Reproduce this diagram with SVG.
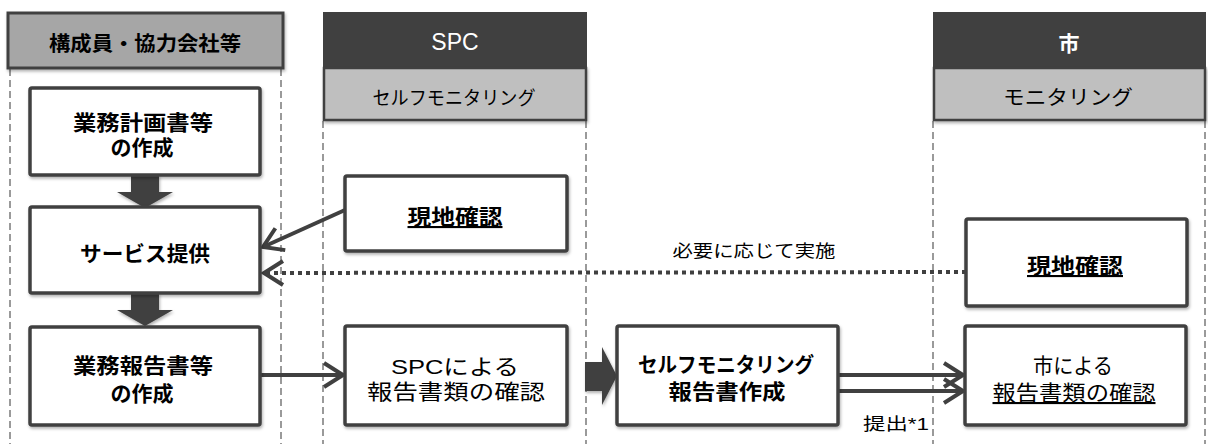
<svg xmlns="http://www.w3.org/2000/svg" width="1208" height="444" viewBox="0 0 1208 444">
<style>
.bg{fill:#ffffff}
.lane{stroke:#9a9a9a;stroke-width:2;stroke-dasharray:7 4;fill:none}
.box{fill:#ffffff;stroke:#404040;stroke-width:3.5}
.hdr1{fill:#a6a6a6;stroke:#404040;stroke-width:3}
.hdr2{fill:#404040}
.sub{fill:#bfbfbf;stroke:#404040;stroke-width:2.5}
.blk{fill:#404040}
.t{font-family:"Liberation Sans","Noto Sans CJK JP",sans-serif;fill:#000;text-anchor:middle}
.b{font-weight:bold}
.w{fill:#ffffff}
.u{text-decoration:underline}
.con{stroke:#404040;stroke-width:4;fill:none}
.dot{stroke:#404040;stroke-width:4;fill:none;stroke-dasharray:4 4}
</style>
<defs>
<filter id="sh" x="-10%" y="-10%" width="120%" height="130%">
<feDropShadow dx="1" dy="2" stdDeviation="1.5" flood-color="#000" flood-opacity="0.3"/>
</filter>
<marker id="open" viewBox="0 0 24 24" refX="20" refY="12" markerWidth="24" markerHeight="24" markerUnits="userSpaceOnUse" orient="auto" overflow="visible">
<path d="M1,0 L20,12 L1,24" fill="none" stroke="#404040" stroke-width="4"/>
</marker>
</defs>
<rect class="bg" x="0" y="0" width="1208" height="444"/>

<g id="lanes">
<line class="lane" x1="10" y1="69" x2="10" y2="444"/>
<line class="lane" x1="281" y1="69" x2="281" y2="444"/>
<line class="lane" x1="323" y1="121" x2="323" y2="444"/>
<line class="lane" x1="586" y1="121" x2="586" y2="444"/>
<line class="lane" x1="933" y1="121" x2="933" y2="444"/>
<line class="lane" x1="1205" y1="121" x2="1205" y2="444"/>
</g>

<g id="header-members">
<rect class="hdr1" x="8" y="13" width="275" height="55" filter="url(#sh)"/>
<text class="t b" x="145" y="51" font-size="20" textLength="192" lengthAdjust="spacingAndGlyphs">構成員・協力会社等</text>
</g>

<g id="header-spc">
<rect class="hdr2" x="323" y="12" width="264" height="57"/>
<text class="t w" x="455" y="50" font-size="23">SPC</text>
<rect class="sub" x="324" y="68" width="262" height="52" filter="url(#sh)"/>
<text class="t" x="454" y="105" font-size="19" textLength="163" lengthAdjust="spacingAndGlyphs">セルフモニタリング</text>
</g>

<g id="header-city">
<rect class="hdr2" x="933" y="12" width="273" height="57"/>
<text class="t w b" x="1069" y="51" font-size="21">市</text>
<rect class="sub" x="934" y="68" width="271" height="52" filter="url(#sh)"/>
<text class="t" x="1068" y="105" font-size="20" textLength="130" lengthAdjust="spacingAndGlyphs">モニタリング</text>
</g>

<g id="connectors">
<polygon class="blk" points="131,175 159,175 159,192 173,192 145,208 117,192 131,192" filter="url(#sh)"/>
<polygon class="blk" points="131,293 159,293 159,310 173,310 145,326 117,310 131,310" filter="url(#sh)"/>
<polygon class="blk" points="585,362 602,362 602,347 617,376 602,405 602,391 585,391" filter="url(#sh)"/>
<line class="con" x1="345" y1="210" x2="263" y2="247" marker-end="url(#open)"/>
<line class="dot" x1="966" y1="272" x2="264" y2="273" marker-end="url(#open)"/>
<line class="con" x1="260" y1="375" x2="343" y2="375" marker-end="url(#open)"/>
<line class="con" x1="838" y1="375" x2="963" y2="375" marker-end="url(#open)"/>
<line class="con" x1="838" y1="391" x2="963" y2="391" marker-end="url(#open)"/>
<text class="t" x="754" y="257" font-size="17" textLength="163" lengthAdjust="spacingAndGlyphs">必要に応じて実施</text>
<text class="t" x="896" y="430" font-size="17" textLength="66" lengthAdjust="spacingAndGlyphs">提出*1</text>
</g>

<g id="plan">
<rect class="box" x="30" y="88" width="230" height="87" rx="2" filter="url(#sh)"/>
<text class="t b" x="143" y="130" font-size="21" textLength="140" lengthAdjust="spacingAndGlyphs">業務計画書等</text>
<text class="t b" x="142" y="155" font-size="21" textLength="63" lengthAdjust="spacingAndGlyphs">の作成</text>
</g>

<g id="service">
<rect class="box" x="30" y="207" width="230" height="86" rx="2" filter="url(#sh)"/>
<text class="t b" x="145" y="261" font-size="21" textLength="130" lengthAdjust="spacingAndGlyphs">サービス提供</text>
</g>

<g id="report">
<rect class="box" x="30" y="327" width="230" height="98" rx="2" filter="url(#sh)"/>
<text class="t b" x="143" y="373" font-size="21" textLength="140" lengthAdjust="spacingAndGlyphs">業務報告書等</text>
<text class="t b" x="142" y="401" font-size="21" textLength="63" lengthAdjust="spacingAndGlyphs">の作成</text>
</g>

<g id="spc-site">
<rect class="box" x="345" y="176" width="222" height="75" rx="2" filter="url(#sh)"/>
<text class="t b u" x="455" y="224" font-size="21" textLength="95" lengthAdjust="spacingAndGlyphs">現地確認</text>
</g>

<g id="spc-check">
<rect class="box" x="345" y="326" width="222" height="99" rx="2" filter="url(#sh)"/>
<text class="t" x="455" y="374" font-size="21" textLength="128" lengthAdjust="spacingAndGlyphs">SPCによる</text>
<text class="t" x="456" y="399" font-size="21" textLength="178" lengthAdjust="spacingAndGlyphs">報告書類の確認</text>
</g>

<g id="self-report">
<rect class="box" x="617" y="326" width="221" height="99" rx="2" filter="url(#sh)"/>
<text class="t b" x="726" y="372" font-size="21" textLength="176" lengthAdjust="spacingAndGlyphs">セルフモニタリング</text>
<text class="t b" x="727" y="399" font-size="21" textLength="117" lengthAdjust="spacingAndGlyphs">報告書作成</text>
</g>

<g id="city-site">
<rect class="box" x="966" y="219" width="221" height="87" rx="2" filter="url(#sh)"/>
<text class="t b u" x="1075" y="273" font-size="21" textLength="96" lengthAdjust="spacingAndGlyphs">現地確認</text>
</g>

<g id="city-check">
<rect class="box" x="965" y="326" width="221" height="99" rx="2" filter="url(#sh)"/>
<text class="t" x="1073" y="373" font-size="21" textLength="80" lengthAdjust="spacingAndGlyphs">市による</text>
<text class="t u" x="1074" y="400" font-size="21" textLength="163" lengthAdjust="spacingAndGlyphs">報告書類の確認</text>
</g>
</svg>
